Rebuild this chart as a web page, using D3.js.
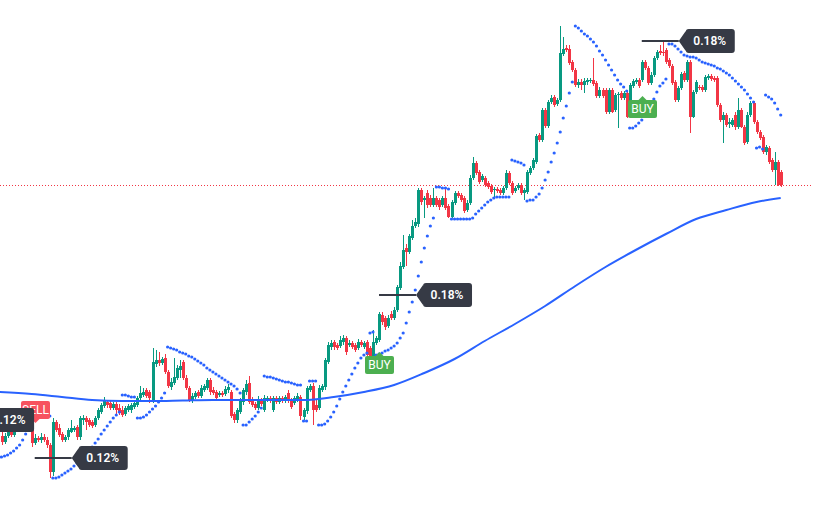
<!DOCTYPE html>
<html><head><meta charset="utf-8">
<script src="https://cdn.jsdelivr.net/npm/d3@7"></script>
<style>html,body{margin:0;padding:0;background:#fff;overflow:hidden}</style>
</head><body>
<svg id="chart" width="813" height="505"></svg>
<script>
const openP = [64,58,64,68,65,72,75,72,78,82, 76,57,62,60,63,60,55,28,78,72, 66,60,63,68,70,73,63,80,82,80, 78,75,82,88,94,98,97,92,96,92, 90,86,90,90,93,95,102,105,110,108, 100,136,140,137,142,128,113,117,122,130, 138,122,112,100,103,108,104,110,112,120, 110,108,105,107,106,110,108,86,80,88, 98,108,117,100,96,92,100,90,100,102, 90,102,98,102,99,107,100,97,100,103, 83,89,110,114,95,92,110,113,138,153, 158,155,154,158,162,155,157,155,152,158, 153,158,152,143,157,160,185,182,174,186, 182,190,212,233,252,248,262,274,276,310, 300,307,302,295,302,300,295,302,294,283, 297,307,305,302,290,297,322,337,328,320, 322,317,314,310,311,310,307,312,327,317, 309,312,315,307,308,327,332,338,365,360, 390,374,398,403,396,400,446,452,451,438, 430,415,418,415,418,419,420,417,404,410, 410,388,410,390,405,407,402,407,393,414, 418,420,420,438,432,417,425,442,449,448, 450,440,434,418,400,412,427,420,438,383, 408,413,413,410,422,424,422,422,395,380, 385,376,375,385,373,390,373,358,385,397, 378,368,363,348,352,340,330,338,328];
const closeP = [58,64,68,65,72,75,72,78,82,76, 57,62,60,63,60,55,28,78,70,65, 60,63,70,72,72,63,82,82,78,75, 74,82,90,95,100,95,92,96,90,87, 85,92,94,95,97,102,107,108,104,102, 138,140,137,141,128,114,118,123,132,134, 122,112,100,104,107,104,112,114,120,108, 107,102,107,105,111,113,84,80,90,100, 110,116,98,95,92,100,96,102,102,99, 102,98,102,99,103,100,93,102,104,84, 90,112,114,90,90,112,114,140,155,157, 153,152,160,162,148,157,153,150,158,155, 157,145,143,158,162,186,178,173,182,182, 190,213,234,250,248,264,274,278,310,298, 302,295,295,302,295,293,302,292,283,298, 307,304,300,289,297,322,337,327,318,324, 315,313,308,311,309,307,312,327,317,307, 312,315,307,310,328,332,340,364,360,390, 374,398,402,395,400,447,451,450,437,430, 415,418,415,419,420,420,416,404,410,404, 388,410,388,405,406,402,407,383,415,419, 420,414,438,432,417,425,442,448,447,447, 438,434,417,400,412,426,420,438,383,408, 418,412,410,423,424,421,420,395,380,385, 375,378,380,373,390,373,357,385,397,378, 368,362,348,353,338,330,338,315,315];
const highP = [68,67,72,71,75,80,82,84,88,86, 78,66,64,67,66,63,57,82,80,76, 68,65,72,80,74,75,84,85,84,82, 80,84,92,97,103,100,99,98,98,96, 94,94,96,97,99,104,114,112,112,110, 152,150,148,143,146,130,122,142,135,140, 140,125,114,107,109,110,115,116,122,122, 113,110,109,109,114,116,110,88,92,102, 112,120,124,103,98,104,102,105,104,104, 104,104,104,104,105,110,102,104,107,105, 92,114,116,117,100,115,116,142,158,160, 160,157,164,165,164,160,159,157,161,160, 159,160,154,170,164,188,188,184,185,189, 193,215,238,265,256,266,280,282,312,312, 304,310,305,312,304,302,304,312,296,300, 309,309,307,304,300,325,343,339,330,326, 324,319,316,313,313,312,314,330,329,319, 314,317,317,312,330,334,342,366,367,392, 392,400,405,405,402,474,463,455,455,440, 432,421,421,422,422,422,442,419,413,412, 412,412,412,407,408,409,409,409,417,421, 422,422,440,440,434,428,444,450,455,460, 452,442,436,420,414,428,429,440,440,410, 420,415,415,425,426,426,424,424,397,388, 387,382,382,388,402,392,375,388,399,399, 380,370,365,355,354,342,348,340,330];
const lowP = [55,56,62,63,63,70,68,70,76,74, 53,55,58,57,58,52,22,24,68,63, 58,58,60,67,68,60,60,75,70,73, 72,73,80,86,92,92,90,90,86,85, 83,84,88,87,91,93,100,103,102,97, 97,133,134,135,126,112,110,115,120,122, 120,110,98,97,101,102,102,108,110,105, 105,100,103,103,104,107,82,77,77,86, 95,105,96,93,90,90,94,88,98,97, 88,96,96,97,97,97,91,95,98,80, 80,86,108,75,88,90,108,110,136,150, 150,150,152,155,145,153,151,148,150,153, 151,143,140,141,155,158,175,170,172,180, 180,188,210,231,234,246,260,272,273,295, 282,292,293,293,293,290,293,290,282,282, 295,302,298,287,288,295,320,325,316,318, 313,311,306,302,307,305,305,310,315,305, 307,310,305,300,306,325,330,336,358,358, 372,372,396,393,394,398,444,448,435,428, 413,412,410,407,415,417,414,402,402,402, 386,386,387,388,372,400,400,382,390,412, 416,412,418,430,415,415,423,440,445,444, 436,432,415,398,398,410,418,418,367,382, 406,410,408,408,420,419,418,393,378,357, 373,372,373,370,371,372,355,356,383,376, 366,360,346,345,336,328,315,314,313];
const sarP = [43,44,45,47,49,52,55,60,66,90, 90,89,88,87,86,85,84,22,22,23, 25,27,29,31,34,37,40,43,46,50, 53,57,61,66,70,74,78,82,85,88, 105,105,104,103,103,82,82,83,85,88, 91,94,98,102,107,153,152,151,150,148, 147,146,144,143,141,139,137,135,132,130, 128,126,124,122,120,118,116,114,111,107, 75,75,78,81,84,88,92,124,123,123, 122,121,120,119,118,118,117,116,115,115, 79,79,119,119,119,75,75,76,79,83, 88,94,101,108,114,120,126,132,137,142, 145,147,167,168,145,146,147,149,150,152, 154,157,162,167,177,188,198,210,224,238, 252,264,274,282,313,313,312,312,311,281, 281,281,281,281,281,281,282,286,289,292, 295,298,300,302,303,303,303,303,303,340, 339,338,337,335,299,300,300,303,306,312, 320,328,338,347,357,368,382,394,407,418, 474,472,469,466,464,461,458,454,449,445, 440,435,430,425,420,416,413,409,372,372, 374,377,380,384,389,395,401,408,414,417, 421,456,456,454,451,448,445,444,443,443, 442,440,438,437,436,435,434,432,431,429, 427,425,422,419,416,413,410,406,402,398, 352,353,351,405,403,401,397,391,385];
const maIndex = [-1,10,20,30,40,50,60,70,80,90,100,110,120,130,140,150,160,170,180,190,200,210,220,230,240,250,258];
const maValue = [108,106,103,100,99,99,99.5,100,100,100,100,103,108,115,127,141,159,176,194,214,233,250,266,281,290,298,302];
const lastPrice = 315;
const pctLabelIndex = [-20, 11, 125, 212];
const pctLabelValue = [80, 42, 205, 459];
const pctLabelText = ["0.12%", "0.12%", "0.18%", "0.18%"];
const signalIndex = [11, 125, 212];
const signalValue = [77, 148, 404];
const signalText = ["SELL", "BUY", "BUY"];

const W = 813, H = 505;
const UP = "#089981", DOWN = "#f23645", BLUE = "#2962ff", DARK = "#363a45";
const svg = d3.select("#chart");
const x = d3.scaleLinear().domain([0, openP.length - 1]).range([1.5, 780.7]);
const y = d3.scaleLinear().domain([0, 500]).range([500, 0]);
const idx = d3.range(openP.length);

// last price dotted line
svg.append("line").attr("x1", 0).attr("x2", W)
  .attr("y1", y(lastPrice) + 0.5).attr("y2", y(lastPrice) + 0.5)
  .attr("stroke", DOWN).attr("stroke-width", 1).attr("stroke-dasharray", "1,2");

// candles
const cg = svg.append("g").attr("shape-rendering", "crispEdges");
const col = i => closeP[i] >= openP[i] ? UP : DOWN;
cg.selectAll("rect.wick").data(idx).join("rect").attr("class", "wick")
  .attr("x", i => Math.round(x(i)))
  .attr("y", i => y(highP[i]))
  .attr("width", 1)
  .attr("height", i => Math.max(1, y(lowP[i]) - y(highP[i])))
  .attr("fill", col);
cg.selectAll("rect.body").data(idx).join("rect").attr("class", "body")
  .attr("x", i => Math.round(x(i)) - 1)
  .attr("y", i => y(Math.max(openP[i], closeP[i])))
  .attr("width", 3)
  .attr("height", i => Math.max(1, Math.abs(y(openP[i]) - y(closeP[i]))))
  .attr("fill", col);

// moving average
const maLine = d3.line().x(d => x(d[0])).y(d => y(d[1])).curve(d3.curveMonotoneX);
svg.append("path").datum(maIndex.map((d, k) => [d, maValue[k]]))
  .attr("d", maLine).attr("fill", "none").attr("stroke", BLUE).attr("stroke-width", 2);

// parabolic SAR dots
svg.append("g").selectAll("circle").data(idx).join("circle")
  .attr("cx", i => x(i)).attr("cy", i => y(sarP[i])).attr("r", 1.6).attr("fill", BLUE);

// signal labels (BUY / SELL)
const sg = svg.append("g");
signalIndex.forEach((si, k) => {
  const cx = Math.round(x(si)) + 0.5;
  const tipY = y(signalValue[k]);
  const isBuy = signalText[k] === "BUY";
  const w = 29, h = 18, r = 2;
  const fill = isBuy ? "#4caf50" : "#f7525f";
  let top;
  let tri;
  if (isBuy) {
    top = tipY + 4;
    tri = `M${cx},${tipY} L${cx - 5},${top + 1} L${cx + 5},${top + 1} Z`;
  } else {
    top = tipY - 4 - h;
    tri = `M${cx},${tipY} L${cx - 5},${top + h - 1} L${cx + 5},${top + h - 1} Z`;
  }
  sg.append("path").attr("d", tri).attr("fill", fill);
  sg.append("rect").attr("x", cx - w / 2).attr("y", top).attr("width", w).attr("height", h)
    .attr("rx", r).attr("fill", fill);
  sg.append("text").attr("x", cx).attr("y", top + h / 2 + 4.3)
    .attr("text-anchor", "middle").attr("fill", "#fff")
    .attr("font-family", "Roboto, 'Liberation Sans', sans-serif").attr("font-size", 12)
    .text(signalText[k]);
});

// percentage labels
const pg = svg.append("g");
pctLabelIndex.forEach((li, k) => {
  const x0 = x(li);
  const yy = Math.round(y(pctLabelValue[k]));
  const tip = x0 + 37;
  pg.append("line").attr("x1", x0).attr("x2", tip).attr("y1", yy).attr("y2", yy)
    .attr("stroke", DARK).attr("stroke-width", 2);
  const bx = tip + 7, top = yy - 12, bot = yy + 12, right = bx + 49, r = 3;
  const d = `M${tip},${yy} L${bx},${yy - 10} L${bx},${top + r} Q${bx},${top} ${bx + r},${top} L${right - r},${top} Q${right},${top} ${right},${top + r} L${right},${bot - r} Q${right},${bot} ${right - r},${bot} L${bx + r},${bot} Q${bx},${bot} ${bx},${bot - r} L${bx},${yy + 10} Z`;
  pg.append("path").attr("d", d).attr("fill", DARK);
  pg.append("text").attr("x", bx + 24).attr("y", yy + 4.3)
    .attr("text-anchor", "middle").attr("fill", "#fff")
    .attr("font-family", "Roboto, 'Liberation Sans', sans-serif").attr("font-size", 12)
    .attr("font-weight", 600)
    .text(pctLabelText[k]);
});
</script>
</body></html>
